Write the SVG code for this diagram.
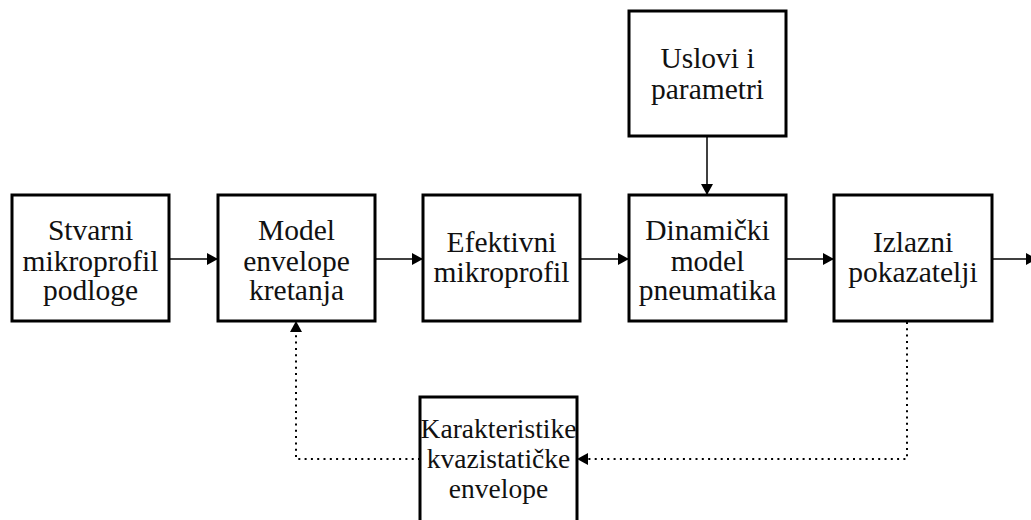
<svg xmlns="http://www.w3.org/2000/svg" width="1031" height="520" viewBox="0 0 1031 520">
<style>
.box{fill:#fff;stroke:#000;stroke-width:3}
.t{font-family:"Liberation Serif","Times New Roman",serif;font-size:29.5px;fill:#111;text-anchor:middle}
.ts{font-size:27.5px}
.c{fill:none;stroke:#000;stroke-width:1.5}
.d{fill:none;stroke:#000;stroke-width:2;stroke-dasharray:2,4.3}
</style>
<defs>
<marker id="ah" viewBox="0 0 11 12" refX="11" refY="6" markerWidth="11" markerHeight="12" markerUnits="userSpaceOnUse" orient="auto">
<path d="M0,0 L11,6 L0,12 Z" fill="#000"/>
</marker>
</defs>
<g id="connectors">
<line class="c" x1="169" y1="259" x2="218" y2="259" marker-end="url(#ah)"/>
<line class="c" x1="375" y1="259" x2="423" y2="259" marker-end="url(#ah)"/>
<line class="c" x1="580" y1="259" x2="629" y2="259" marker-end="url(#ah)"/>
<line class="c" x1="786" y1="259" x2="834" y2="259" marker-end="url(#ah)"/>
<line class="c" x1="992" y1="259" x2="1037" y2="259" marker-end="url(#ah)"/>
<line class="c" x1="707" y1="136" x2="707" y2="195" marker-end="url(#ah)"/>
<polyline class="d" points="907,322 907,459 588,459"/>
<path d="M588,453 L577,459 L588,465 Z" fill="#000"/>
<polyline class="d" points="420,459 296,459 296,332"/>
<path d="M290,332 L296,321 L302,332 Z" fill="#000"/>
</g>
<g id="n1"><rect class="box" x="12" y="195" width="157" height="126"/>
<text class="t"><tspan x="90.5" y="240">Stvarni</tspan><tspan x="90.5" y="271">mikroprofil</tspan><tspan x="90.5" y="300">podloge</tspan></text></g>
<g id="n2"><rect class="box" x="218" y="195" width="157" height="126"/>
<text class="t"><tspan x="296.5" y="240">Model</tspan><tspan x="296.5" y="271">envelope</tspan><tspan x="296.5" y="300">kretanja</tspan></text></g>
<g id="n3"><rect class="box" x="423" y="195" width="157" height="126"/>
<text class="t"><tspan x="501.5" y="252">Efektivni</tspan><tspan x="501.5" y="282">mikroprofil</tspan></text></g>
<g id="n4"><rect class="box" x="629" y="195" width="157" height="126"/>
<text class="t"><tspan x="707.5" y="240">Dinamički</tspan><tspan x="707.5" y="271">model</tspan><tspan x="707.5" y="300">pneumatika</tspan></text></g>
<g id="n5"><rect class="box" x="834" y="195" width="158" height="126"/>
<text class="t"><tspan x="913" y="252">Izlazni</tspan><tspan x="913" y="282">pokazatelji</tspan></text></g>
<g id="n6"><rect class="box" x="629" y="11" width="157" height="125"/>
<text class="t"><tspan x="707.5" y="68">Uslovi i</tspan><tspan x="707.5" y="99">parametri</tspan></text></g>
<g id="n7"><rect class="box" x="420" y="397" width="157" height="140"/>
<text class="t ts"><tspan x="498.5" y="438">Karakteristike</tspan><tspan x="498.5" y="468">kvazistatičke</tspan><tspan x="498.5" y="498">envelope</tspan></text></g>
</svg>
